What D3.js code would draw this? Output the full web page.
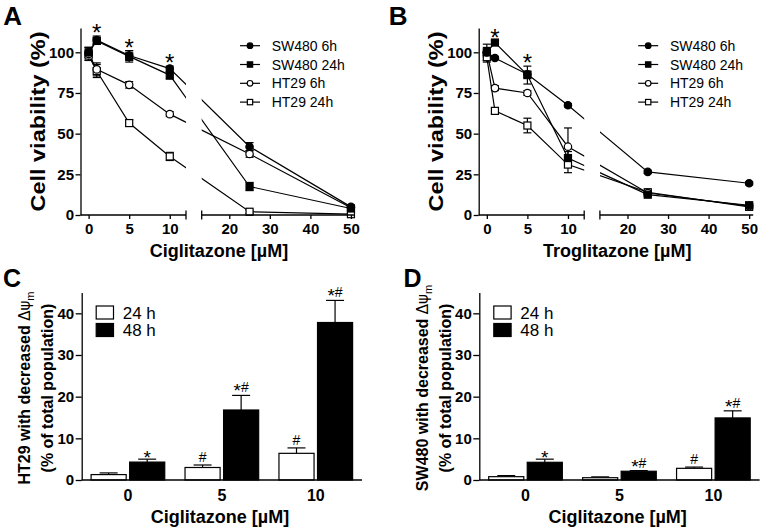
<!DOCTYPE html>
<html><head><meta charset="utf-8">
<script src="https://cdn.jsdelivr.net/npm/d3@7"></script>
<style>body{margin:0;background:#fff}</style>
</head><body>
<svg id="c" width="764" height="532"></svg>
<script>
// ---------- DATA ----------
const doses = [0, 1, 5, 10, 25, 50];
const seriesNames = ["SW480 6h", "SW480 24h", "HT29 6h", "HT29 24h"];
const markerTypes = ["filledCircle", "filledSquare", "openCircle", "openSquare"];

// Panel A: Ciglitazone, cell viability (%)
const cigSW480_6h  = [100, 107.5, 98, 90, 42, 5];
const cigSW480_24h = [100, 107, 97.5, 86, 17.5, 4];
const cigHT29_6h   = [99, 89.5, 80, 62, 37.5, 4.5];
const cigHT29_24h  = [98, 88.5, 56.5, 36, 2, 0.5];
const cigErrSW480_6h  = [3, 2.5, 3, 1.5, 2.5, 1];
const cigErrSW480_24h = [3, 2, 3.5, 2.5, 2.5, 1];
const cigErrHT29_6h   = [4, 4, 2, 1.5, 2, 1];
const cigErrHT29_24h  = [3, 4, 2, 2.5, 1, 0.5];
const cigStars = [1, 5, 10];

// Panel B: Troglitazone, cell viability (%)
const troSW480_6h  = [100, 96.5, 86.5, 67.5, 26.5, 19.5];
const troSW480_24h = [100, 106, 86, 35, 12.5, 6];
const troHT29_6h   = [100, 78, 75, 42, 13.5, 5.5];
const troHT29_24h  = [97, 64, 55, 31, 14, 5];
const troErrSW480_6h  = [2, 1, 2, 1, 1, 1];
const troErrSW480_24h = [5, 1, 5.5, 4, 1, 1];
const troErrHT29_6h   = [3, 1.5, 1.5, 11.5, 1, 1];
const troErrHT29_24h  = [3, 2, 4.5, 5, 1, 1];
const troStars = [1, 5];

const viabilityTicks = [0, 25, 50, 75, 100];
const doseTicksLow = [0, 5, 10];
const doseTicksHigh = [20, 30, 40, 50];

// Panels C/D: cells with decreased membrane potential (% of total population)
const barCats = ["0", "5", "10"];
const barGroups = ["24 h", "48 h"];
const htVal24 = [1.3, 3.0, 6.4];
const htErr24 = [0.4, 0.6, 1.3];
const htVal48 = [4.3, 16.8, 37.8];
const htErr48 = [0.7, 3.5, 5.3];
const htSig24 = ["", "#", "#"];
const htSig48 = ["*", "*#", "*#"];
const swVal24 = [0.8, 0.55, 2.8];
const swErr24 = [0.25, 0.2, 0.3];
const swVal48 = [4.25, 2.1, 14.9];
const swErr48 = [0.75, 0.15, 1.7];
const swSig24 = ["", "", "#"];
const swSig48 = ["*", "*#", "*#"];
const barTicks = [0, 10, 20, 30, 40];

// ---------- DRAWING ----------
const FONT = "'Liberation Sans', Arial, Helvetica, sans-serif";
const svg = d3.select("#c");
const defs = svg.append("defs");

function drawMarker(g, type, cx, cy, r) {
  const filled = type.startsWith("filled");
  if (type.endsWith("Circle")) {
    g.append("circle").attr("cx", cx).attr("cy", cy).attr("r", r)
      .attr("fill", filled ? "#000" : "#fff").attr("stroke", "#000").attr("stroke-width", 1.2);
  } else {
    const s = r * 1.9;
    g.append("rect").attr("x", cx - s / 2).attr("y", cy - s / 2).attr("width", s).attr("height", s)
      .attr("fill", filled ? "#000" : "#fff").attr("stroke", "#000").attr("stroke-width", 1.2);
  }
}

function sigText(g, cx, baseY, s) {
  const t = g.append("text").attr("x", cx).attr("y", baseY).attr("text-anchor", "middle")
    .attr("font-family", FONT);
  const solo = s === "*";
  const shift = solo ? 8 : 5;
  for (const ch of s) {
    if (ch === "*") t.append("tspan").attr("font-size", 19).attr("dy", shift).text("*");
    else t.append("tspan").attr("font-size", 14).attr("dy", s.includes("*") ? -shift : 0).text(ch);
  }
}

function linePanel(ox, letter, xTitle, vals, errs, stars, id) {
  const g = svg.append("g");
  const x = d3.scaleLinear().domain([-1, 12, 13.2, 51]).range([ox + 80.5, ox + 186, ox + 201.7, ox + 355]);
  const y = d3.scaleLinear().domain([0, 115]).range([215, 27.9]);

  defs.append("clipPath").attr("id", id + "a").append("rect")
    .attr("x", ox + 80).attr("y", 0).attr("width", 106).attr("height", 240);
  defs.append("clipPath").attr("id", id + "b").append("rect")
    .attr("x", ox + 201.7).attr("y", 0).attr("width", 165).attr("height", 240);

  const line = d3.line().x((d, i) => x(doses[i])).y(d => y(d));
  ["a", "b"].forEach(s => {
    const cg = g.append("g").attr("clip-path", `url(#${id + s})`);
    vals.forEach(v => cg.append("path").attr("d", line(v))
      .attr("fill", "none").attr("stroke", "#000").attr("stroke-width", 1.2));
  });

  // error bars
  const eg = g.append("g").attr("stroke", "#000").attr("stroke-width", 1.2);
  vals.forEach((v, si) => {
    v.forEach((val, i) => {
      const e = errs[si][i];
      const cx = x(doses[i]);
      eg.append("line").attr("x1", cx).attr("x2", cx).attr("y1", y(val - e)).attr("y2", y(val + e));
      [val - e, val + e].forEach(t => eg.append("line")
        .attr("x1", cx - 4).attr("x2", cx + 4).attr("y1", y(t)).attr("y2", y(t)));
    });
  });

  // markers (open first, filled on top)
  const mg = g.append("g");
  [3, 2, 1, 0].forEach(si => {
    vals[si].forEach((val, i) => drawMarker(mg, markerTypes[si], x(doses[i]), y(val), 3.7));
  });

  // stars
  stars.forEach(d => {
    const i = doses.indexOf(d);
    const top = d3.max(vals.map((v, si) => v[i] + errs[si][i]));
    g.append("text").attr("x", x(d)).attr("y", y(top) + 5).attr("text-anchor", "middle")
      .attr("font-family", FONT).attr("font-size", 24).text("*");
  });

  // x axis (broken)
  const ax = g.append("g").attr("transform", "translate(0,215)");
  const xa = d3.axisBottom(x).tickValues(doseTicksLow.concat(doseTicksHigh))
    .tickSize(4).tickPadding(4).tickFormat(d3.format("d"));
  ax.call(xa);
  ax.select(".domain").remove();
  ax.selectAll("line").attr("stroke-width", 1.3);
  ax.selectAll("text").attr("font-family", FONT).attr("font-size", 15).attr("font-weight", "bold");
  [[-1, 12], [13.2, 51]].forEach(([a, b]) => ax.append("line")
    .attr("x1", x(a)).attr("x2", x(b)).attr("y1", 0).attr("y2", 0)
    .attr("stroke", "#000").attr("stroke-width", 1.3));
  [12, 13.2].forEach(b => ax.append("line")
    .attr("x1", x(b)).attr("x2", x(b)).attr("y1", -4.5).attr("y2", 4.5)
    .attr("stroke", "#000").attr("stroke-width", 1.3));

  // y axis
  const ay = g.append("g").attr("transform", `translate(${ox + 80.5},0)`);
  ay.call(d3.axisLeft(y).tickValues(viabilityTicks).tickSize(5).tickPadding(1.5).tickSizeOuter(0));
  ay.select(".domain").attr("stroke-width", 1.3);
  ay.selectAll("line").attr("stroke-width", 1.3);
  ay.selectAll("text").attr("font-family", FONT).attr("font-size", 15).attr("font-weight", "bold");

  // titles
  g.append("text").attr("x", ox + 219).attr("y", 256.5).attr("text-anchor", "middle")
    .attr("font-family", FONT).attr("font-size", 18).attr("font-weight", "bold").text(xTitle);
  g.append("text").attr("transform", `translate(${ox + 38},121.5) rotate(-90)`).attr("dy", "0.35em")
    .attr("text-anchor", "middle").attr("font-family", FONT).attr("font-size", 20)
    .attr("font-weight", "bold").attr("textLength", 180).attr("lengthAdjust", "spacingAndGlyphs")
    .text("Cell viability (%)");
  g.append("text").attr("x", ox + (letter === "A" ? 3.3 : -9.5)).attr("y", 25)
    .attr("font-family", FONT).attr("font-size", 26).attr("font-weight", "bold").text(letter);

  // legend
  const lg = g.append("g");
  seriesNames.forEach((n, i) => {
    const ly = 45.7 + i * 18.8;
    lg.append("line").attr("x1", ox + 240).attr("x2", ox + 260).attr("y1", ly).attr("y2", ly)
      .attr("stroke", "#000").attr("stroke-width", 1.2);
    drawMarker(lg, markerTypes[i], ox + 250, ly, 2.8);
    lg.append("text").attr("x", ox + 271.7).attr("y", ly).attr("dy", "0.36em")
      .attr("font-family", FONT).attr("font-size", 14).text(n);
  });
}

function barPanel(ox, letter, cell, v24, e24, v48, e48, s24, s48) {
  const g = svg.append("g");
  const ax0 = ox + 81.7;
  const x0 = d3.scaleBand().domain(barCats).range([ax0, ox + 362]).paddingInner(0.216).paddingOuter(0.1);
  const x1 = d3.scaleBand().domain(barGroups).range([0, x0.bandwidth()]).paddingInner(0.09);
  const y = d3.scaleLinear().domain([0, 45]).range([480, 292.5]);

  const groups = [
    { key: "24 h", v: v24, e: e24, s: s24, fill: "#fff" },
    { key: "48 h", v: v48, e: e48, s: s48, fill: "#000" }
  ];
  groups.forEach(gr => {
    barCats.forEach((c, i) => {
      const bx = x0(c) + x1(gr.key), bw = x1.bandwidth();
      const val = gr.v[i], err = gr.e[i];
      const cx = bx + bw / 2;
      g.append("line").attr("x1", cx).attr("x2", cx).attr("y1", y(val)).attr("y2", y(val + err))
        .attr("stroke", "#000").attr("stroke-width", 1.2);
      g.append("line").attr("x1", cx - 9).attr("x2", cx + 9).attr("y1", y(val + err)).attr("y2", y(val + err))
        .attr("stroke", "#000").attr("stroke-width", 1.2);
      g.append("rect").attr("x", bx).attr("y", y(val)).attr("width", bw).attr("height", y(0) - y(val))
        .attr("fill", gr.fill).attr("stroke", "#000").attr("stroke-width", 1.2);
      if (gr.s[i]) sigText(g, cx, y(val + err) - 3, gr.s[i]);
    });
  });

  // x axis
  const ax = g.append("g").attr("transform", "translate(0,480)");
  ax.call(d3.axisBottom(x0).tickSize(0).tickPadding(9.5));
  ax.select(".domain").remove();
  ax.selectAll("text").attr("font-family", FONT).attr("font-size", 16).attr("font-weight", "bold");
  ax.append("line").attr("x1", ax0).attr("x2", ox + 362).attr("stroke", "#000").attr("stroke-width", 1.3);

  // y axis
  const ay = g.append("g").attr("transform", `translate(${ax0},0)`);
  ay.call(d3.axisLeft(y).tickValues(barTicks).tickSize(6).tickPadding(1.5).tickSizeOuter(0));
  ay.select(".domain").attr("stroke-width", 1.3);
  ay.selectAll("line").attr("stroke-width", 1.3);
  ay.selectAll("text").attr("font-family", FONT).attr("font-size", 15).attr("font-weight", "bold");

  // titles
  g.append("text").attr("x", ox + 220).attr("y", 523).attr("text-anchor", "middle")
    .attr("font-family", FONT).attr("font-size", 18).attr("font-weight", "bold").text("Ciglitazone [µM]");
  const t1 = g.append("text").attr("transform", `translate(${ax0 - 57},388) rotate(-90)`).attr("dy", "0.35em")
    .attr("text-anchor", "middle").attr("font-family", FONT).attr("font-size", 16).attr("font-weight", "bold");
  t1.append("tspan").text(cell + " with decreased ");
  t1.append("tspan").attr("font-family", "'DejaVu Sans', sans-serif").attr("font-weight", "normal")
    .attr("font-size", 15).text("Δψ");
  t1.append("tspan").attr("font-family", FONT).attr("font-weight", "normal").attr("font-size", 11).attr("dy", 4).text("m");
  g.append("text").attr("transform", `translate(${ax0 - 34.3},388) rotate(-90)`).attr("dy", "0.35em")
    .attr("text-anchor", "middle").attr("font-family", FONT).attr("font-size", 16)
    .attr("font-weight", "bold").text("(% of total population)");
  g.append("text").attr("x", letter === "C" ? 3 : ox + 6).attr("y", 287)
    .attr("font-family", FONT).attr("font-size", 25).attr("font-weight", "bold").text(letter);

  // legend
  groups.forEach((gr, i) => {
    const ly = 306 + i * 17.5;
    g.append("rect").attr("x", ax0 + 14.5).attr("y", ly).attr("width", 17.3).attr("height", 13)
      .attr("fill", gr.fill).attr("stroke", "#000").attr("stroke-width", 1.2);
    g.append("text").attr("x", ax0 + 41).attr("y", ly + 6.5).attr("dy", "0.36em")
      .attr("font-family", FONT).attr("font-size", 17).text(gr.key);
  });
}

linePanel(0, "A", "Ciglitazone [µM]",
  [cigSW480_6h, cigSW480_24h, cigHT29_6h, cigHT29_24h],
  [cigErrSW480_6h, cigErrSW480_24h, cigErrHT29_6h, cigErrHT29_24h], cigStars, "clipA");
linePanel(398.2, "B", "Troglitazone [µM]",
  [troSW480_6h, troSW480_24h, troHT29_6h, troHT29_24h],
  [troErrSW480_6h, troErrSW480_24h, troErrHT29_6h, troErrHT29_24h], troStars, "clipB");
barPanel(0, "C", "HT29", htVal24, htErr24, htVal48, htErr48, htSig24, htSig48);
barPanel(397.6, "D", "SW480", swVal24, swErr24, swVal48, swErr48, swSig24, swSig48);
</script>
</body></html>
